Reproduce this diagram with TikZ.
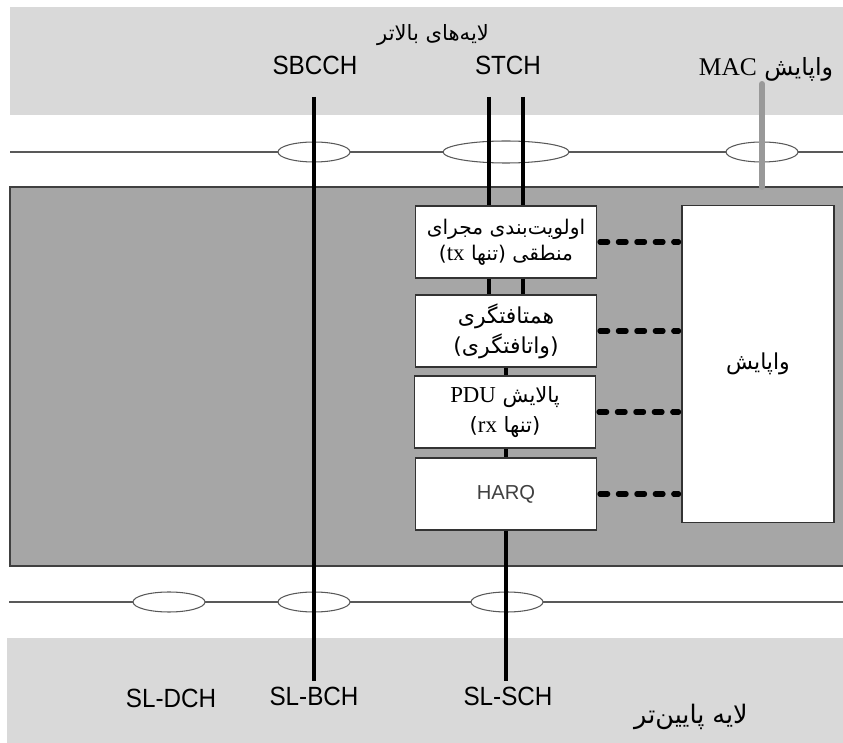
\documentclass[tikz,border=0pt]{standalone}
\usepackage{fontspec}
\usetikzlibrary{shapes.geometric}
\setmainfont{Liberation Serif}
\newfontfamily\farsi[Script=Arabic]{DejaVu Sans}
\newfontfamily\chan[FakeStretch=0.92]{Liberation Sans}
\newfontfamily\harqfont{Liberation Sans}
\TeXXeTstate=1

\definecolor{layerband}{HTML}{D9D9D9}
\definecolor{macband}{HTML}{A6A6A6}
\definecolor{bandedge}{HTML}{404040}
\definecolor{linegray}{HTML}{595959}
\definecolor{boxedge}{HTML}{333333}
\definecolor{macgray}{HTML}{999999}

\newcommand\lat[1]{\beginL{\rmfamily\fontsize{13}{14}\selectfont #1}\endL}

\tikzset{
  chline/.style={line width=2pt},
  macline/.style={line width=3.4pt, draw=macgray, line cap=round},
  sapline/.style={line width=0.85pt, draw=linegray},
  sap/.style={ellipse, draw=linegray, fill=white, line width=0.6pt,
    minimum width=1.44cm, minimum height=0.4cm, inner sep=0pt},
  funcbox/.style={rectangle, draw=boxedge, fill=white, line width=0.85pt,
    minimum width=3.62cm, minimum height=1.44cm, inner sep=0pt, align=center,
    font=\farsi\fontsize{11.5}{15}\selectfont},
  ctrllink/.style={line width=2.85pt, dash pattern=on 4.5pt off 6pt,
    line cap=round, shorten <=1.5pt, shorten >=1.5pt},
  chlabel/.style={inner sep=0pt, font=\chan\fontsize{15}{17}\selectfont},
  falabel/.style={inner sep=0pt, font=\farsi\fontsize{12}{14}\selectfont},
}

\begin{document}
\begin{tikzpicture}[x=0.02cm, y=-0.02cm]
\useasboundingbox (0,0) rectangle (843,743);

% layers
\fill[layerband] (10,7) rectangle (843,115);
\fill[layerband] (7,638) rectangle (843,743);
\draw[fill=macband, draw=bandedge, line width=0.85pt] (10,187) rectangle (850,566);

% service access points
\draw[sapline] (10,152) -- (843,152);
\draw[sapline] (9,602) -- (843,602);

\node[sap] (sbcchsap) at (314,152) {};
\node[sap, minimum width=2.52cm, minimum height=0.44cm] (stchsap) at (506,152) {};
\node[sap] (macsap) at (762,152) {};
\node[sap] (sldchsap) at (169,602) {};
\node[sap] (slbchsap) at (314,602) {};
\node[sap] (slschsap) at (507,602) {};

% labels
\node[falabel] (upper) at (433,35) {\beginR لایه‌های بالاتر\endR};
\node[chlabel] (sbcch) at (315,65) {SBCCH};
\node[chlabel] (stch) at (508,65) {STCH};
\node[falabel, font=\farsi\fontsize{13.5}{15}\selectfont] (maclabel) at (766,69)
  {\beginR واپایش \beginL{\rmfamily\fontsize{14.5}{15}\selectfont MAC}\endL\endR};

\node[chlabel] (sldch) at (171,698) {SL-DCH};
\node[chlabel] (slbch) at (314,696) {SL-BCH};
\node[chlabel] (slsch) at (508,696) {SL-SCH};
\node[falabel, font=\farsi\fontsize{14.5}{16}\selectfont] (lower) at (691,717) {\beginR لایه پایین‌تر\endR};

% MAC entities
\node[funcbox] (prio) at (506,242)
  {\beginR اولویت‌بندی مجرای\endR\\\beginR منطقی (تنها \lat{tx})\endR};
\node[funcbox, font=\farsi\fontsize{12.5}{17}\selectfont] (mux) at (506,331)
  {\beginR همتافتگری\endR\\\beginR (واتافتگری)\endR};
\node[funcbox, font=\farsi\fontsize{12}{17}\selectfont] (filt) at (505,412)
  {\beginR پالایش \lat{PDU}\endR\\\beginR (تنها \lat{rx})\endR};
\node[funcbox, font=\harqfont\fontsize{11.5}{13}\selectfont, text=bandedge] (harq) at (506,494) {HARQ};
\node[funcbox, font=\farsi\fontsize{12.5}{15}\selectfont, minimum width=3.04cm, minimum height=6.34cm]
  (ctrl) at (758,364) {\beginR واپایش\endR};

% channels
\coordinate (sbcchtop) at (314,97);
\coordinate (stchtopA) at (489,97);
\coordinate (stchtopB) at (523,97);
\coordinate (mactop) at (762,84);
\coordinate (macend) at (762,187);
\coordinate (slbchend) at (314,681);
\coordinate (slschend) at (506,681);

\draw[macline] (mactop) -- (macend);
\draw[chline] (sbcchtop) -- (slbchend);
\draw[chline] (stchtopA) -- (stchtopA |- prio.north);
\draw[chline] (stchtopB) -- (stchtopB |- prio.north);
\draw[chline] (stchtopA |- prio.south) -- (stchtopA |- mux.north);
\draw[chline] (stchtopB |- prio.south) -- (stchtopB |- mux.north);
\draw[chline] (mux.south) -- (mux.south |- filt.north);
\draw[chline] (mux.south |- filt.south) -- (harq.north);
\draw[chline] (harq.south) -- (slschend);

% control
\foreach \b in {prio,mux,filt,harq}
  \draw[ctrllink] (\b.east) -- (\b.east -| ctrl.west);
\end{tikzpicture}
\end{document}
